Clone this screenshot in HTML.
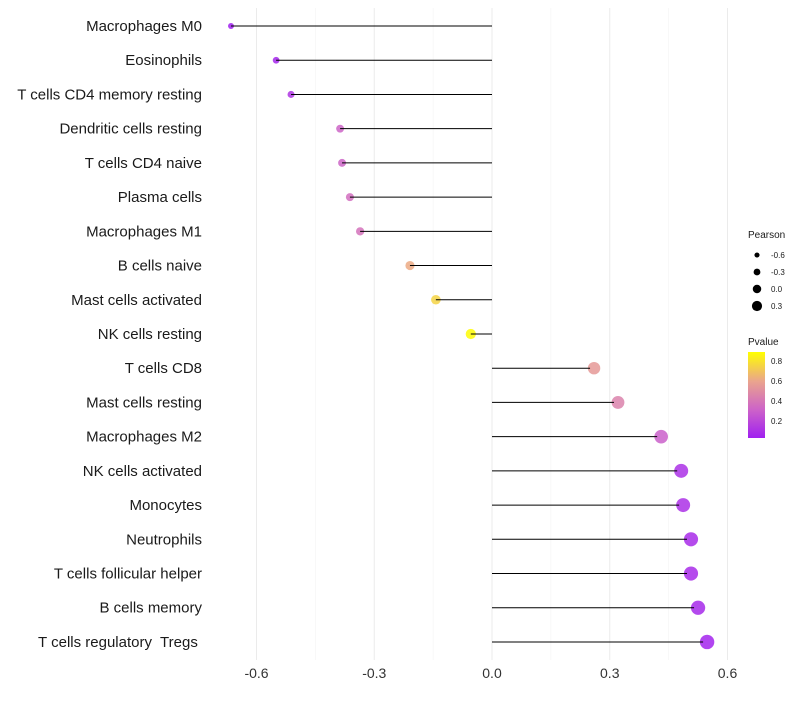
<!DOCTYPE html>
<html><head><meta charset="utf-8"><style>
body{margin:0;background:#fff;font-family:"Liberation Sans",sans-serif}
text{white-space:pre}
</style></head><body>
<svg id="c" width="800" height="700" xmlns="http://www.w3.org/2000/svg"></svg>
<script>
const categories=["Macrophages M0","Eosinophils","T cells CD4 memory resting","Dendritic cells resting","T cells CD4 naive","Plasma cells","Macrophages M1","B cells naive","Mast cells activated","NK cells resting","T cells CD8","Mast cells resting","Macrophages M2","NK cells activated","Monocytes","Neutrophils","T cells follicular helper","B cells memory","T cells regulatory  Tregs "];
const pearson=[-0.665,-0.55,-0.512,-0.387,-0.382,-0.362,-0.336,-0.209,-0.143,-0.054,0.26,0.321,0.431,0.482,0.487,0.507,0.507,0.525,0.548];
const pvalues=[0.03,0.06,0.12,0.32,0.32,0.36,0.38,0.62,0.75,0.88,0.55,0.45,0.3,0.1,0.1,0.08,0.08,0.07,0.05];
const xTicks=[-0.6,-0.3,0.0,0.3,0.6];
const xMinor=[-0.45,-0.15,0.15,0.45];
const sizeLegend=[-0.6,-0.3,0.0,0.3];
const colorTicks=[0.2,0.4,0.6,0.8];
const NS="http://www.w3.org/2000/svg",svg=document.getElementById('c');
const x=v=>492+v*392.5, y=i=>26+i*34.22, r=v=>5.3+v*3.5;
function lerp(a,b,t){return a.map((c,k)=>Math.round(c+(b[k]-c)*t));}
function col(p){const t=Math.max(0,Math.min(1,(p-0.03)/(0.89-0.03)));
 const s=[[160,32,240],[205,100,200],[235,165,140],[255,255,0]];
 const seg=Math.min(2,Math.floor(t*3)),u=t*3-seg;const c=lerp(s[seg],s[seg+1],u);return `rgb(${c})`;}
function el(t,a,txt){const e=document.createElementNS(NS,t);for(const k in a)e.setAttribute(k,a[k]);if(txt!=null)e.textContent=txt;svg.appendChild(e);return e;}
xMinor.forEach(v=>{const e=el('line',{x1:x(v),x2:x(v),y1:8,y2:660,stroke:'#f2f2f2','stroke-width':0.6});

});
xTicks.forEach(v=>{const e=el('line',{x1:x(v),x2:x(v),y1:8,y2:660,stroke:'#ebebeb','stroke-width':1});


const t=el('text',{x:x(v),y:678,'font-size':14,'text-anchor':'middle',fill:'#333'},v.toFixed(1));

});
categories.forEach((c,i)=>{
const t=el('text',{x:202,y:y(i)+5,'font-size':15,'text-anchor':'end',fill:'#1a1a1a'},c);


const d=el('circle',{cx:x(pearson[i]),cy:y(i),r:r(pearson[i]),fill:col(pvalues[i]),'fill-opacity':0.85});


const l=el('line',{x1:x(0),x2:x(pearson[i])+(pearson[i]<0?0:-4),y1:y(i),y2:y(i),stroke:'#000','stroke-width':1});

});
let t=el('text',{x:748,y:238,'font-size':10,fill:'#1a1a1a'},'Pearson');


sizeLegend.forEach((v,k)=>{const cy=255+k*17;
const d=el('circle',{cx:757,cy:cy,r:r(v)*0.8,fill:'#000'});


const s=el('text',{x:771,y:cy+3,'font-size':8,fill:'#1a1a1a'},v.toFixed(1));

});
t=el('text',{x:748,y:345,'font-size':10,fill:'#1a1a1a'},'Pvalue');


const defs=el('defs',{});const g=document.createElementNS(NS,'linearGradient');
g.setAttribute('id','gr');g.setAttribute('x1','0');g.setAttribute('y1','1');g.setAttribute('x2','0');g.setAttribute('y2','0');defs.appendChild(g);
[0,0.33,0.66,1].forEach((o,k)=>{const s=document.createElementNS(NS,'stop');s.setAttribute('offset',o);s.setAttribute('stop-color',col(0.03+o*0.86));g.appendChild(s);});
const bar=el('rect',{x:748,y:352,width:17,height:86,fill:'url(#gr)'});


colorTicks.forEach(p=>{const cy=438-(p-0.03)*100;
const s=el('text',{x:771,y:cy+3,'font-size':8,fill:'#1a1a1a'},p.toFixed(1));

});
</script>
</body></html>
